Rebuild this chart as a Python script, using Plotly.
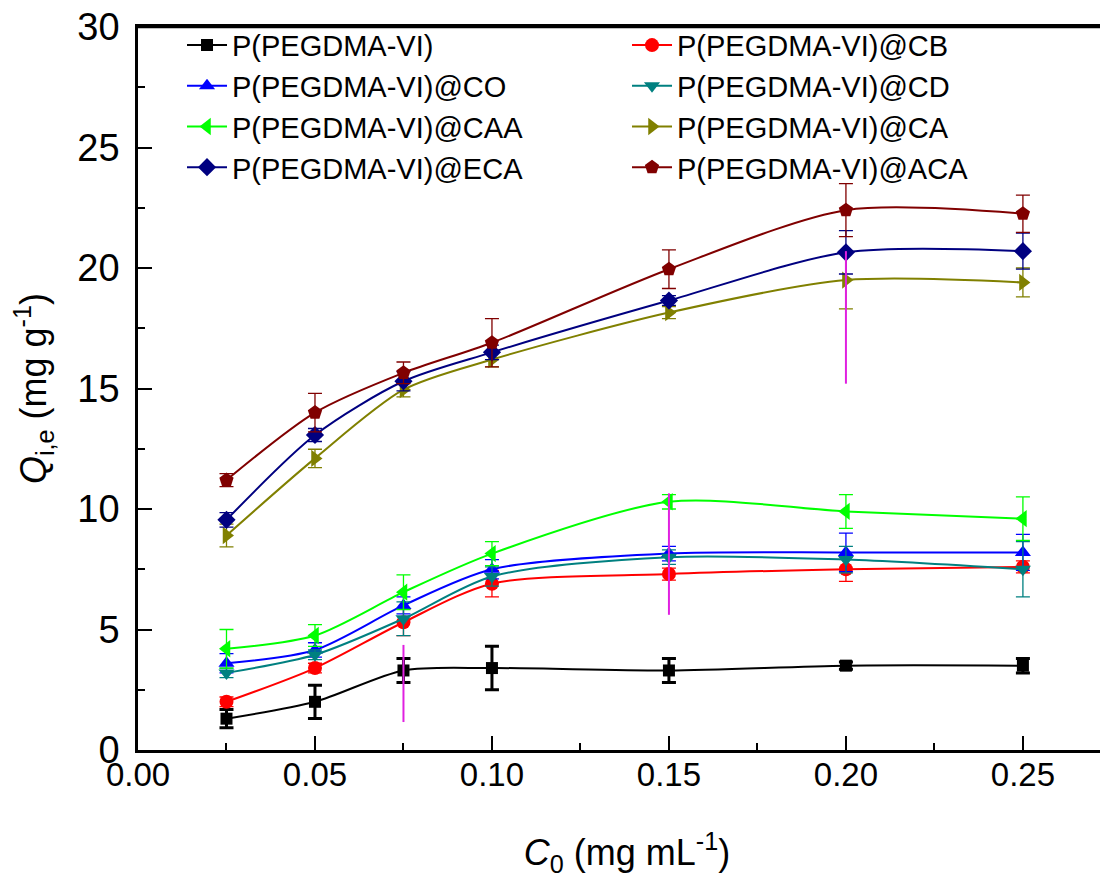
import plotly.graph_objects as go

# ---- data ----
c0 = [0.025, 0.05, 0.075, 0.10, 0.15, 0.20, 0.25]

names = ["P(PEGDMA-VI)", "P(PEGDMA-VI)@CB", "P(PEGDMA-VI)@CO", "P(PEGDMA-VI)@CD",
         "P(PEGDMA-VI)@CAA", "P(PEGDMA-VI)@CA", "P(PEGDMA-VI)@ECA", "P(PEGDMA-VI)@ACA"]

q_vi = [1.3, 2.0, 3.3, 3.4, 3.3, 3.5, 3.5]
e_vi = [0.38, 0.69, 0.5, 0.9, 0.5, 0.15, 0.3]
q_cb = [2.0, 3.4, 5.3, 6.9, 7.3, 7.5, 7.6]
e_cb = [0.2, 0.2, 0.55, 0.55, 0.25, 0.5, 0.25]
q_co = [3.6, 4.15, 6.0, 7.5, 8.15, 8.2, 8.2]
e_co = [0.4, 0.3, 0.35, 0.4, 0.3, 0.8, 0.75]
q_cd = [3.2, 3.95, 5.45, 7.2, 8.0, 7.9, 7.5]
e_cd = [0.2, 0.2, 0.7, 0.4, 0.3, 0.55, 1.15]
q_caa = [4.2, 4.75, 6.55, 8.15, 10.3, 9.9, 9.6]
e_caa = [0.8, 0.45, 0.72, 0.5, 0.3, 0.7, 0.9]
q_ca = [8.9, 12.1, 14.95, 16.2, 18.15, 19.5, 19.4]
e_ca = [0.47, 0.38, 0.3, 0.3, 0.25, 1.2, 0.6]
q_eca = [9.55, 13.07, 15.3, 16.5, 18.65, 20.65, 20.7]
e_eca = [0.3, 0.27, 0.4, 0.3, 0.2, 0.9, 0.75]
q_aca = [11.2, 14.0, 15.65, 16.9, 19.95, 22.4, 22.25]
e_aca = [0.27, 0.8, 0.45, 1.0, 0.8, 1.1, 0.77]

# stray magenta error bars
mag_x = [0.075, 0.15, 0.20]
mag_y = [2.76, 8.13, 17.95]
mag_e = [1.6, 2.52, 2.75]

series_q = [q_vi, q_cb, q_co, q_cd, q_caa, q_ca, q_eca, q_aca]
series_e = [e_vi, e_cb, e_co, e_cd, e_caa, e_ca, e_eca, e_aca]

# ---- styles ----
colors = ["#000000", "#FF0000", "#0000FF", "#008080", "#00FF00", "#808000", "#000080", "#800000"]
symbols = ["square", "circle", "triangle-up", "triangle-down", "triangle-left",
           "triangle-right", "diamond", "pentagon"]
msizes = [12, 14, 14, 14, 15, 15, 14, 15]

FONT = "Arial, Liberation Sans, sans-serif"

fig = go.Figure()
for name, q, e, col, sym, ms in zip(names, series_q, series_e, colors, symbols, msizes):
    fig.add_trace(go.Scatter(
        x=c0, y=q, name=name, mode="lines+markers",
        line=dict(color=col, width=2, shape="spline", smoothing=0.8),
        marker=dict(symbol=sym, size=ms, color=col),
        error_y=dict(type="data", array=e, visible=True, color=col,
                     thickness=3 if col == "#000000" else 1.3, width=7),
    ))

fig.add_trace(go.Scatter(
    x=mag_x, y=mag_y, mode="markers", showlegend=False, hoverinfo="skip",
    marker=dict(size=1, color="rgba(0,0,0,0)"),
    error_y=dict(type="data", array=mag_e, visible=True, color="#E020E0",
                 thickness=2, width=0),
))

# top frame line of the plot area
fig.add_shape(type="line", xref="paper", yref="paper", x0=0, x1=1, y0=1, y1=1,
              line=dict(color="black", width=2.5), layer="above")

fig.update_layout(
    width=1108, height=884,
    margin=dict(l=130, r=0, t=19, b=142),
    paper_bgcolor="white", plot_bgcolor="white",
    font=dict(family=FONT, color="black"),
    legend=dict(orientation="h", x=0.045, y=1.01, xanchor="left", yanchor="top",
                entrywidth=390, font=dict(size=29, family=FONT),
                bgcolor="rgba(0,0,0,0)", itemwidth=40, tracegroupgap=0),
    xaxis=dict(range=[0, 0.2763], tick0=0, dtick=0.05, tickformat=".2f",
               ticks="inside", ticklen=14, tickwidth=2, tickcolor="black",
               minor=dict(dtick=0.025, ticks="inside", ticklen=7, tickwidth=2, tickcolor="black"),
               showline=True, linewidth=2.5, linecolor="black", mirror=True,
               showgrid=False, zeroline=False, automargin=False,
               ticklabeloverflow="allow",
               tickfont=dict(size=33, family=FONT), ticklabelstandoff=-6,
               title=dict(text="<i>C</i><sub>0</sub> (mg mL<sup>-1</sup>)",
                          font=dict(size=36, family=FONT), standoff=48)),
    yaxis=dict(range=[0, 30], tick0=0, dtick=5,
               ticks="inside", ticklen=14, tickwidth=2, tickcolor="black",
               minor=dict(dtick=2.5, ticks="inside", ticklen=7, tickwidth=2, tickcolor="black"),
               showline=True, linewidth=2.5, linecolor="black", mirror=False,
               showgrid=False, zeroline=False, automargin=False,
               ticklabeloverflow="allow",
               tickfont=dict(size=38, family=FONT), ticklabelstandoff=8,
               title=dict(text="<i>Q</i><sub>i,e</sub> (mg g<sup>-1</sup>)",
                          font=dict(size=36, family=FONT), standoff=25)),
)

fig.write_html("out.html")
